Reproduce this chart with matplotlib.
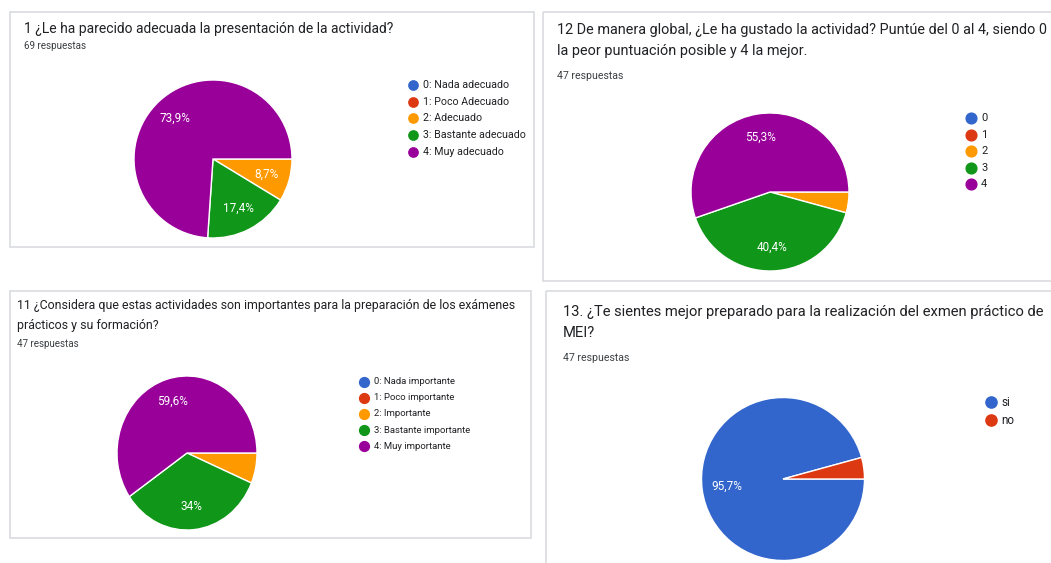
import matplotlib.pyplot as plt
from matplotlib.patches import Rectangle

plt.rcParams['font.family'] = ['Roboto', 'DejaVu Sans']

W, H = 1051, 563

# colores de Google Forms
colores = ['#3366cc', '#dc3912', '#ff9900', '#109618', '#990099']

# pregunta 1
p1_titulo = ["1 ¿Le ha parecido adecuada la presentación de la actividad?"]
p1_resp = "69 respuestas"
p1_cat = ["0: Nada adecuado", "1: Poco Adecuado", "2: Adecuado",
          "3: Bastante adecuado", "4: Muy adecuado"]
p1_val = [0, 0, 6, 12, 51]

# pregunta 12
p12_titulo = ["12 De manera global, ¿Le ha gustado la actividad? Puntúe del 0 al 4, siendo 0",
              "la peor puntuación posible y 4 la mejor."]
p12_resp = "47 respuestas"
p12_cat = ["0", "1", "2", "3", "4"]
p12_val = [0, 0, 2, 19, 26]

# pregunta 11
p11_titulo = ["11 ¿Considera que estas actividades son importantes para la preparación de los exámenes",
              "prácticos y su formación?"]
p11_resp = "47 respuestas"
p11_cat = ["0: Nada importante", "1: Poco importante", "2: Importante",
           "3: Bastante importante", "4: Muy importante"]
p11_val = [0, 0, 3, 16, 28]

# pregunta 13
p13_titulo = ["13. ¿Te sientes mejor preparado para la realización del exmen práctico de",
              "MEI?"]
p13_resp = "47 respuestas"
p13_cat = ["si", "no"]
p13_val = [45, 2]


def porcentaje(p):
    if p < 7:
        return ""
    s = f"{p:.1f}"
    if s.endswith(".0"):
        s = s[:-2]
    return s.replace(".", ",") + "%"


fig = plt.figure(figsize=(W / 100, H / 100), dpi=100)
fondo = fig.add_axes([0, 0, 1, 1])
fondo.set_xlim(0, W)
fondo.set_ylim(H, 0)
fondo.axis('off')


def panel(caja, titulo, ty, tx, tsize, resp, ry, rsize,
          cx, cy, rx, rylen, valores, cats, cols, lx, ly, ldy, lsize, msize):
    x0, y0, x1, y1 = caja
    fondo.add_patch(Rectangle((x0, y0), x1 - x0, y1 - y0, fill=False,
                              edgecolor='#dadce0', linewidth=1.2))
    for i, linea in enumerate(titulo):
        fondo.text(tx, ty[i], linea, fontsize=tsize, color='#202124',
                   va='center', ha='left')
    fondo.text(tx, ry, resp, fontsize=rsize, color='#3c4043',
               va='center', ha='left')

    ax = fig.add_axes([(cx - rx) / W, 1 - (cy + rylen) / H,
                       2 * rx / W, 2 * rylen / H])
    _, _, autot = ax.pie(valores, colors=cols, startangle=0, counterclock=False,
                         autopct=porcentaje, pctdistance=0.7,
                         wedgeprops=dict(edgecolor='white', linewidth=1))
    for t in autot:
        t.set_color('white')
        t.set_fontsize(8.5)
    ax.set_aspect('auto')
    ax.set_xlim(-1, 1)
    ax.set_ylim(-1, 1)
    ax.axis('off')

    for i, c in enumerate(cats):
        fondo.scatter([lx], [ly + i * ldy], s=msize, color=cols[i], zorder=3)
        fondo.text(lx + 10, ly + i * ldy, c, fontsize=lsize, color='#202124',
                   va='center', ha='left')


panel((10, 12, 534, 247), p1_titulo, [29], 24, 10.0, p1_resp, 46, 7.1,
      213, 159, 79, 79, p1_val, p1_cat, colores, 413, 85, 16.7, 7.7, 45)

panel((543, 12, 1060, 281), p12_titulo, [30, 51], 557, 10.35, p12_resp, 76, 7.6,
      770, 192, 79, 79, p12_val, p12_cat, colores, 971, 118, 16.6, 8, 60)

panel((10, 291, 531, 538), p11_titulo, [306, 326], 17, 8.95, p11_resp, 344, 7,
      187, 453, 70, 77, p11_val, p11_cat, colores, 364, 381.5, 16.2, 6.8, 50)

panel((546, 291, 1060, 580), p13_titulo, [312, 333], 563, 10.6, p13_resp, 358, 7.6,
      783, 479, 81.5, 81.5, p13_val, p13_cat, colores[:2], 991, 402, 18, 8.5, 65)

fig.savefig('out.png', dpi=100)
